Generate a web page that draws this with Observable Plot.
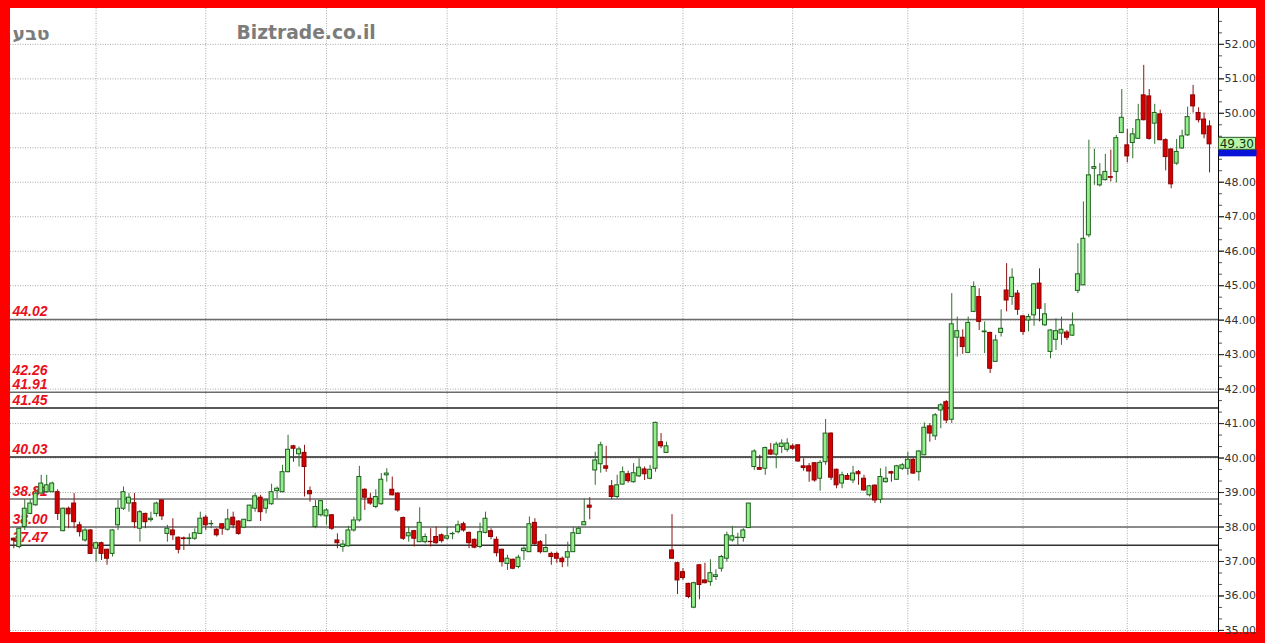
<!DOCTYPE html>
<html>
<head>
<meta charset="utf-8">
<script src="https://cdn.jsdelivr.net/npm/d3@7"></script>
<script src="https://cdn.jsdelivr.net/npm/@observablehq/plot@0.6"></script>
<style>
  html, body { margin: 0; padding: 0; background: #ff0000; }
  #wrap { position: relative; width: 1265px; height: 643px; background: #ff0000; overflow: hidden; }
  #chart { position: absolute; left: 10px; top: 8px; width: 1246px; height: 624px; background: #ffffff; }
  #chart svg { display: block; }
</style>
</head>
<body>
<div id="wrap"><div id="chart"></div></div>
<script>
// ---- data ----
const titleText = "טבע";
const watermark = "Biztrade.co.il";
const lastPriceLabel = "49.30";

const opens = [37.66,37.42,38.00,38.38,38.63,38.97,39.01,39.01,39.01,37.88,38.53,38.68,38.05,37.61,37.90,37.37,37.53,37.34,37.22,38.05,
38.53,38.68,38.69,37.95,38.38,38.20,38.38,38.77,37.80,37.90,37.69,37.67,37.65,37.66,37.80,38.27,38.08,37.92,38.08,37.92,
38.27,38.16,37.98,38.17,38.53,38.85,38.53,38.66,39.04,39.01,39.59,40.34,40.11,40.15,39.04,38.00,38.34,38.31,38.34,37.61,
37.42,37.44,37.90,38.19,39.08,38.82,38.58,38.66,39.50,39.08,38.97,38.26,37.73,37.88,37.56,37.56,37.57,37.71,37.76,37.66,
37.79,37.85,38.08,37.83,37.63,37.42,37.83,37.88,37.63,37.34,36.93,37.05,36.84,37.30,37.27,38.12,37.56,37.27,37.22,37.22,
37.08,37.11,37.27,37.80,38.05,38.62,39.64,39.82,39.76,39.18,38.87,39.23,39.53,39.30,39.47,39.67,39.40,39.69,40.46,40.15,
37.32,36.95,36.69,36.35,35.66,36.89,36.45,36.40,36.55,36.79,37.08,37.61,37.68,37.68,37.97,39.74,39.71,39.69,40.22,40.10,
40.32,40.24,40.34,40.37,39.76,39.76,39.85,39.40,39.88,40.71,39.66,39.26,39.48,39.35,39.59,39.40,38.92,39.20,38.79,39.30,
39.59,39.37,39.69,39.69,39.95,39.59,40.08,40.92,40.63,41.38,41.62,41.11,43.49,43.49,43.05,44.24,44.67,43.65,43.63,42.79,
43.63,44.86,44.67,44.77,44.11,43.99,44.14,45.06,43.85,43.08,43.43,43.61,43.64,43.55,44.85,45.01,46.46,48.39,47.91,48.06,
48.15,48.30,49.43,49.07,49.14,49.26,50.52,50.49,49.70,49.97,49.22,48.95,48.54,48.98,49.36,50.52,50.01,49.82,49.62];

const highs = [37.68,37.97,38.79,38.79,39.16,39.50,39.50,39.30,39.08,38.55,38.58,38.97,38.14,37.95,37.92,37.56,37.56,37.36,37.92,38.77,
39.16,38.97,38.97,38.48,38.40,38.43,38.72,38.78,38.05,38.24,37.71,37.71,37.80,37.95,38.43,38.34,38.19,37.95,38.09,38.51,
38.43,38.18,38.22,38.63,38.97,38.92,38.79,39.24,39.16,39.79,40.66,40.37,40.32,40.37,39.16,38.77,38.77,38.53,38.36,37.80,
37.61,38.02,38.29,39.76,39.11,38.97,39.08,39.55,39.69,39.45,38.99,38.29,38.00,37.90,38.56,37.80,37.95,38.00,37.80,38.00,
37.85,38.17,38.14,37.85,37.65,38.11,38.43,37.95,37.71,37.36,37.18,37.07,37.18,37.42,38.29,38.24,37.61,37.78,37.27,37.27,
37.13,37.56,38.00,38.00,38.81,38.85,40.17,40.46,40.34,39.35,39.50,39.74,39.62,39.84,39.98,39.74,39.79,41.04,40.71,40.46,
38.36,36.98,36.79,36.37,36.40,36.90,36.95,37.05,36.76,37.18,37.85,38.02,37.82,37.95,38.69,40.24,40.08,40.32,40.42,40.46,
40.53,40.56,40.40,40.39,39.98,39.84,39.87,39.93,41.12,40.73,39.68,39.59,39.55,39.76,39.64,39.50,39.21,39.22,39.69,39.74,
39.62,39.79,39.84,40.17,39.98,40.22,41.02,41.00,41.29,41.58,41.67,44.77,44.09,43.72,44.09,45.11,44.91,43.95,43.65,43.56,
44.30,45.64,45.49,44.86,44.14,44.17,45.06,45.49,44.48,43.72,44.04,44.09,43.70,44.21,46.22,47.43,49.22,48.96,48.54,48.81,
48.93,49.36,50.69,49.53,49.56,50.26,51.39,50.69,50.26,50.09,49.26,48.97,49.24,49.51,50.18,50.81,50.16,50.01,49.78];

const lows = [37.37,37.37,37.90,38.36,38.60,38.95,38.97,39.00,38.19,37.86,37.95,37.95,37.71,37.56,37.20,36.98,37.03,36.89,37.13,37.90,
38.48,38.43,37.95,37.56,37.95,38.14,38.29,38.19,37.56,37.61,37.22,37.32,37.47,37.61,37.78,37.90,37.95,37.71,37.76,37.88,
37.95,37.76,37.95,38.15,38.43,38.16,38.38,38.63,38.82,38.99,39.57,39.88,39.74,38.87,38.72,37.95,38.29,38.05,37.90,37.37,
37.27,37.42,37.85,38.14,38.48,38.63,38.53,38.63,39.30,38.90,38.43,37.61,37.56,37.42,37.55,37.51,37.42,37.50,37.53,37.61,
37.63,37.80,37.85,37.37,37.37,37.37,37.80,37.63,37.13,36.84,36.74,36.76,36.79,37.03,37.26,37.47,37.22,37.26,36.89,36.95,
36.82,36.84,37.26,37.79,38.04,38.21,39.21,39.56,39.59,38.79,38.82,39.21,39.27,39.27,39.43,39.35,39.37,39.59,40.27,40.14,
37.07,36.04,36.45,35.92,35.63,35.89,36.35,36.28,36.45,36.69,36.98,37.56,37.44,37.56,37.95,39.64,39.64,39.50,40.08,39.69,
40.13,40.17,40.22,39.88,39.62,39.30,39.30,39.04,39.79,39.35,39.11,39.11,39.35,39.26,39.21,39.04,38.87,38.68,38.68,39.27,
39.30,39.35,39.64,39.50,39.53,39.33,40.07,40.46,40.51,40.85,41.00,41.00,42.93,43.01,43.03,44.22,43.70,43.03,42.45,42.78,
43.51,44.24,44.43,44.14,43.56,43.66,43.82,43.95,43.82,42.88,43.12,43.27,43.41,43.53,44.77,45.00,46.39,47.91,47.86,48.04,
48.01,47.98,49.41,48.56,48.68,49.24,49.78,49.22,49.10,49.20,48.33,47.81,48.49,48.96,49.33,50.01,49.72,49.26,48.27];

const closes = [37.61,37.95,38.53,38.68,38.97,39.26,39.21,39.26,38.38,38.53,38.37,38.14,37.85,37.90,37.22,37.53,37.22,37.08,37.90,38.53,
39.01,38.85,38.14,38.43,38.14,38.24,38.68,38.31,37.95,37.76,37.34,37.65,37.67,37.82,38.24,38.05,38.09,37.76,37.95,38.22,
38.05,37.80,38.21,38.62,38.89,38.43,38.77,39.01,39.11,39.59,40.24,40.27,40.25,39.74,38.95,38.58,38.75,38.48,37.95,37.53,
37.49,37.90,38.19,39.45,38.85,38.68,38.87,39.37,39.55,38.92,38.48,37.66,37.82,37.66,38.12,37.71,37.56,37.53,37.59,37.73,
37.80,38.05,37.90,37.53,37.40,37.85,38.24,37.71,37.24,36.98,37.08,36.79,37.11,37.37,38.08,37.51,37.27,37.39,37.13,37.08,
36.98,37.27,37.82,37.95,38.14,38.56,39.93,40.37,39.69,38.87,39.21,39.59,39.33,39.56,39.72,39.53,39.66,41.02,40.34,40.34,
37.08,36.45,36.52,35.97,36.37,36.32,36.37,36.66,36.60,37.13,37.76,37.73,37.69,37.90,38.68,40.19,39.66,40.29,40.10,40.39,
40.42,40.42,40.27,39.90,39.71,39.61,39.35,39.86,40.71,39.43,39.21,39.50,39.37,39.55,39.53,39.06,39.18,38.77,39.45,39.40,
39.55,39.76,39.79,39.95,39.55,40.19,40.88,40.71,41.24,41.53,41.09,43.88,43.68,43.22,43.92,44.96,43.95,43.67,42.59,43.41,
43.75,44.57,45.23,44.30,43.66,44.09,45.04,44.33,44.17,43.70,43.68,43.72,43.49,43.85,45.33,46.36,48.20,48.44,48.20,48.30,
48.13,49.28,49.87,48.75,49.39,49.80,49.80,49.26,50.01,49.22,48.73,47.94,48.88,49.33,49.89,50.20,49.80,49.39,49.10];

// month separators (candle index of vertical grid lines)
const monthBreaks = [15, 35, 57, 79, 99, 122, 142, 163, 184, 203];
// price axis ticks (the 49.00 label sits under the last-price box in the picture)
const majorTicks = d3.range(35, 53, 1);
const labelledTicks = majorTicks.filter(v => v !== 49);
const minorTicks = d3.range(35, 53.01, 1/3).filter(v => Math.abs(v - Math.round(v)) > 0.01);
// support / resistance levels
const levelLines = [44.02, 41.91, 41.45, 40.03, 38.81, 38.00, 37.47];
const levelLineColors = ["#6a6a6a", "#6a6a6a", "#222222", "#222222", "#6a6a6a", "#6a6a6a", "#333333"];
const levelLabels = [44.02, 42.26, 41.91, 41.45, 40.03, 38.81, 38.00, 37.47];

// ---- build table ----
const candles = opens.map((o, i) => ({
  i, open: o, high: highs[i], low: lows[i], close: closes[i], up: closes[i] >= o
}));
const levels = levelLines.map((v, k) => ({v, c: levelLineColors[k]}));
const labelsTop = levelLabels.filter(v => v === 42.26);
const labelsRest = levelLabels.filter(v => v !== 42.26);

const font = "DejaVu Sans, Verdana, sans-serif";
const labelFont = "Liberation Sans, Arial, sans-serif";
const labelStyle = {
  x: -0.6, y: d => d, text: d => d.toFixed(2), textAnchor: "start", lineAnchor: "bottom",
  dx: 2, fill: "#e8101c", fontStyle: "italic", fontWeight: "bold", fontSize: 14, fontFamily: labelFont
};

const plot = Plot.plot({
  width: 1246,
  height: 624,
  marginLeft: 0,
  marginRight: 38,
  marginTop: 0,
  marginBottom: 0,
  style: {background: "#ffffff", fontFamily: font, overflow: "visible"},
  x: {domain: [-0.6, 219.63], axis: null},
  y: {domain: [34.94, 53.04], axis: null},
  marks: [
    Plot.gridY(majorTicks, {stroke: "#a8a8a8", strokeOpacity: 1, strokeDasharray: "1,1.5"}),
    Plot.gridX(monthBreaks, {stroke: "#a8a8a8", strokeOpacity: 1, strokeDasharray: "1,1.5"}),
    Plot.ruleY(levels, {y: "v", stroke: "c", strokeWidth: 1.5}),
    Plot.text(labelsRest, {...labelStyle, dy: -3}),
    Plot.text(labelsTop, {...labelStyle, dy: -5}),
    Plot.text([titleText], {frameAnchor: "top-left", dx: 2, dy: 25, lineAnchor: "middle", textAnchor: "start",
      fill: "#7c7c7c", fontSize: 19, fontWeight: "bold", fontFamily: font}),
    Plot.text([watermark], {frameAnchor: "top-left", dx: 226, dy: 25, lineAnchor: "middle", textAnchor: "start",
      fill: "#7c7c7c", fontSize: 18.7, fontWeight: "bold", fontFamily: font}),
    Plot.ruleX(candles, {x: "i", y1: "low", y2: "high", stroke: d => d.up ? "#2f6f2f" : "#8c1414", strokeWidth: 1}),
    Plot.rect(candles, {
      x1: d => d.i - 0.36, x2: d => d.i + 0.36,
      y1: d => Math.min(d.open, d.close), y2: d => Math.max(d.open, d.close),
      fill: d => d.up ? "#94ee8c" : "#d20000",
      stroke: d => d.up ? "#1f5f1f" : "#8a0000", strokeWidth: 1
    }),
    Plot.ruleX([219.63], {stroke: "#000000", strokeWidth: 1}),
    Plot.axisY(majorTicks, {anchor: "right", tickSize: 5, text: null, stroke: "#333333"}),
    Plot.axisY(labelledTicks, {anchor: "right", tickSize: 5, tickPadding: 1, tickFormat: d => d.toFixed(2),
      fontSize: 11, fill: "#333333", stroke: "#333333", fontFamily: font}),
    Plot.axisY(minorTicks, {anchor: "right", tickSize: 3, text: null, stroke: "#555555"})
  ]
});

document.getElementById("chart").appendChild(plot);

// last price markers on the price axis, positioned with the plot's own y scale
const ys = plot.scale("y");
const yLast = ys.apply(closes[closes.length - 1]);
const svg = d3.select(plot);
const g = svg.append("g");
g.append("rect").attr("x", 1208.5).attr("y", yLast + 5.5).attr("width", 38).attr("height", 7)
  .attr("fill", "#0a14d8");
g.append("rect").attr("x", 1208.5).attr("y", yLast - 6.5).attr("width", 37).attr("height", 12)
  .attr("fill", "#b8f5a8").attr("stroke", "#2a5a2a").attr("stroke-width", 1);
g.append("text").attr("x", 1244).attr("y", yLast).attr("dy", "0.36em").attr("text-anchor", "end")
  .style("font-family", font).style("font-size", "12px").attr("fill", "#0f3a0f").text(lastPriceLabel);
</script>
</body>
</html>
